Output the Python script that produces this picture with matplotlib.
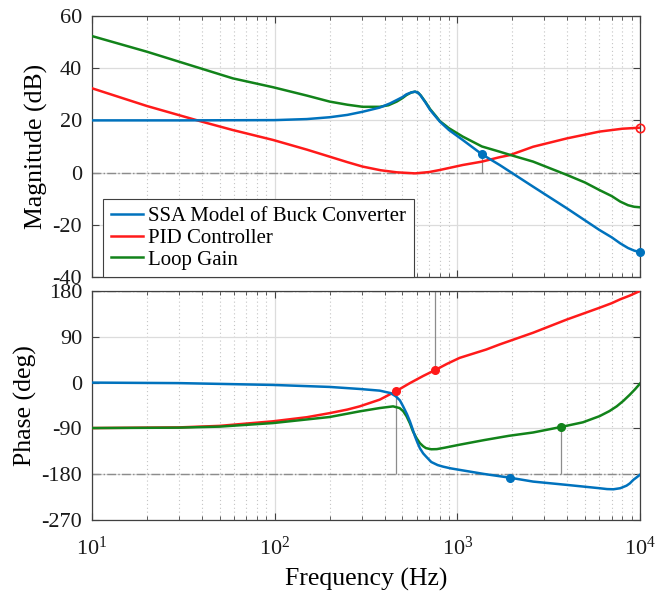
import numpy as np
import matplotlib
matplotlib.use("Agg")
import matplotlib.pyplot as plt

plt.rcParams['font.family'] = 'serif'
plt.rcParams['font.serif'] = ['Liberation Serif', 'DejaVu Serif']
plt.rcParams['mathtext.fontset'] = 'stix'
plt.rcParams['axes.unicode_minus'] = False

# magnitude (dB)
f_buck_mag = [10, 30, 100, 150, 200, 250, 303, 376, 428, 466, 500, 527, 560, 587, 610, 630,
              670, 710, 760, 803, 900, 1070, 1364, 1706, 2600, 3980, 6000, 7000, 7790, 8600,
              9300, 10000]
buck_mag = [20.0, 20.0, 20.1, 20.5, 21.2, 22.1, 23.3, 24.9, 26.5, 27.8, 28.9, 30.0, 30.7,
            31.0, 30.6, 29.5, 26.8, 24.0, 21.5, 19.5, 16.3, 12.5, 7.0, 2.9, -5.4, -13.7,
            -22.0, -24.8, -27.1, -28.9, -29.9, -30.5]

f_pid_mag = [10, 20, 40, 59, 98, 150, 200, 250, 303, 380, 466, 587, 700, 803, 1070, 1364,
             1706, 1940, 2600, 3980, 6000, 8000, 10000]
pid_mag = [32.3, 25.5, 19.5, 16.3, 12.5, 8.8, 6.1, 4.0, 2.3, 0.9, 0.1, -0.3, 0.2, 1.0, 2.9,
           4.2, 5.9, 6.7, 9.9, 13.1, 15.7, 16.8, 17.2]

f_loop_mag = [10, 20, 39, 59, 98, 150, 200, 250, 303, 376, 420, 466, 500, 527, 560, 587, 610,
              630, 670, 710, 760, 803, 900, 1070, 1364, 1706, 1940, 2600, 3980, 5000, 6000,
              7000, 7790, 8600, 9300, 10000]
loop_mag = [52.3, 46.3, 40.0, 36.1, 32.7, 29.5, 27.2, 26.0, 25.2, 25.2, 25.8, 27.2, 28.5,
            29.7, 30.7, 31.0, 30.6, 29.6, 27.0, 24.3, 21.8, 19.7, 17.0, 13.8, 10.0, 8.0, 6.8,
            4.2, -0.9, -3.8, -6.7, -9.0, -11.1, -12.5, -13.1, -13.3]

# phase (deg)
f_buck_ph = [10, 30, 98, 200, 292, 376, 430, 461, 485, 505, 530, 550, 570, 587, 605, 624,
             650, 673, 720, 780, 833, 920, 1030, 1400, 1920, 2600, 3980, 6000, 6600, 7150,
             7800, 8440, 8800, 9200, 9600, 10000]
buck_ph = [0, -1, -4.6, -8.5, -12.5, -15.8, -20.5, -27, -35, -46.7, -62, -76, -92, -106,
           -118, -129, -139, -145, -156, -162, -165, -168.5, -171.5, -179.5, -186.6, -194.5,
           -201, -207.5, -209.2, -209.6, -207.5, -202.5, -198, -191, -186, -181]

f_pid_ph = [10, 30, 50, 98, 150, 200, 250, 292, 376, 461, 550, 650, 753, 880, 1030, 1440,
            1706, 2600, 3980, 6000, 7000, 7790, 8800, 10000]
pid_ph = [-89.3, -88, -85, -76, -68, -60, -53, -46.7, -33.5, -17, -1, 13, 24.3, 37, 48.6,
          65, 75, 98, 124, 147, 156, 163.6, 171, 180]

f_loop_ph = [10, 30, 50, 98, 200, 292, 376, 445, 483, 505, 527, 550, 572, 600, 624, 650, 673,
             720, 773, 850, 1030, 1400, 1920, 2600, 3672, 4870, 6000, 6800, 7460, 8100, 8800,
             9400, 10000]
loop_ph = [-89.3, -88.5, -86.5, -79.5, -67.6, -56.5, -50, -46.7, -50, -56, -66, -80, -96,
           -110, -119, -125, -128.7, -131, -130.7, -128, -122, -113, -104.5, -98, -87.4, -78,
           -66, -56, -46.6, -36, -23.7, -13, -2]

# margin markers
buck_mag_pts = ([1364, 10000], [7.0, -30.5])
pid_mag_pt = ([10000], [17.2])
pid_ph_pts = ([461, 753], [-17, 24.3])
buck_ph_pt = ([1940], [-188])
loop_ph_pt = ([3672], [-87.4])

labels = ['SSA Model of Buck Converter', 'PID Controller', 'Loop Gain']
c_blue, c_red, c_green = '#0072BD', '#FF1A1A', '#12831A'
gcol = '#8c8c8c'

fig = plt.figure(figsize=(6.56, 5.98), dpi=100)
ax1 = fig.add_axes([0.1402, 0.5368, 0.8354, 0.4365])
ax2 = fig.add_axes([0.1402, 0.1304, 0.8354, 0.3830])

lw = 1.8
ax1.semilogx(f_buck_mag, buck_mag, color=c_blue, lw=lw, label=labels[0], zorder=4)
ax1.semilogx(f_pid_mag, pid_mag, color=c_red, lw=lw, label=labels[1], zorder=3)
ax1.semilogx(f_loop_mag, loop_mag, color=c_green, lw=lw, label=labels[2], zorder=3)
ax1.axhline(0, color=gcol, lw=1, ls='-.', zorder=2)
ax1.vlines(buck_mag_pts[0][0], 0, buck_mag_pts[1][0], color=gcol, lw=0.9, zorder=2)
ax1.plot(*buck_mag_pts, 'o', color=c_blue, ms=5.5, zorder=5, clip_on=False)
ax1.plot(*pid_mag_pt, 'o', mfc='none', mec=c_red, ms=6, mew=1.2, zorder=5, clip_on=False)

ax2.semilogx(f_buck_ph, buck_ph, color=c_blue, lw=lw, zorder=4)
ax2.semilogx(f_pid_ph, pid_ph, color=c_red, lw=lw, zorder=3)
ax2.semilogx(f_loop_ph, loop_ph, color=c_green, lw=lw, zorder=3)
for yy in (180, -180):
    ax2.axhline(yy, color=gcol, lw=1, ls='-.', zorder=2)
ax2.vlines(pid_ph_pts[0][0], -180, pid_ph_pts[1][0], color=gcol, lw=0.9, zorder=2)
ax2.vlines(pid_ph_pts[0][1], pid_ph_pts[1][1], 180, color=gcol, lw=0.9, zorder=2)
ax2.vlines(loop_ph_pt[0][0], -180, loop_ph_pt[1][0], color=gcol, lw=0.9, zorder=2)
ax2.plot(*pid_ph_pts, 'o', color=c_red, ms=5.5, zorder=5)
ax2.plot(*buck_ph_pt, 'o', color=c_blue, ms=5.5, zorder=5)
ax2.plot(*loop_ph_pt, 'o', color=c_green, ms=5.5, zorder=5)

ax1.set_ylim(-40, 60)
ax1.set_yticks([-40, -20, 0, 20, 40, 60])
ax2.set_ylim(-270, 180)
ax2.set_yticks([-270, -180, -90, 0, 90, 180])

for ax in (ax1, ax2):
    ax.set_xlim(10, 1e4)
    ax.grid(True, which='major', color='#dcdcdc', lw=0.9, ls='-', zorder=0)
    ax.grid(True, which='minor', axis='x', color='#c4c4c4', lw=0.8, ls=(0, (1, 2.5)), zorder=0)
    ax.tick_params(which='both', direction='in', top=True, right=True,
                   labelsize=16, colors='#404040', labelcolor='#1a1a1a')
    ax.tick_params(which='major', length=5, width=0.8)
    ax.tick_params(which='minor', length=3, width=0.6)
    ax.tick_params(axis='y', pad=7)
    ax.tick_params(axis='x', pad=12)
    for s in ax.spines.values():
        s.set_color('#404040')
        s.set_linewidth(0.9)
    ax.set_axisbelow(True)

ax1.tick_params(labelbottom=False)
ax1.set_ylabel('Magnitude (dB)', fontsize=18.5, labelpad=3)
ax2.set_ylabel('Phase (deg)', fontsize=18.5, labelpad=3)
ax2.set_xlabel('Frequency (Hz)', fontsize=18.5, labelpad=6)

leg = ax1.legend(loc='lower left', bbox_to_anchor=(0.021, 0.0), borderaxespad=0,
                 fontsize=15, handlelength=1.55, handletextpad=0.25,
                 labelspacing=0.1, borderpad=0.35, fancybox=False, framealpha=1,
                 edgecolor='#404040')
leg.get_frame().set_linewidth(0.8)
leg.set_zorder(10)

fig.savefig('out.png', dpi=100)
